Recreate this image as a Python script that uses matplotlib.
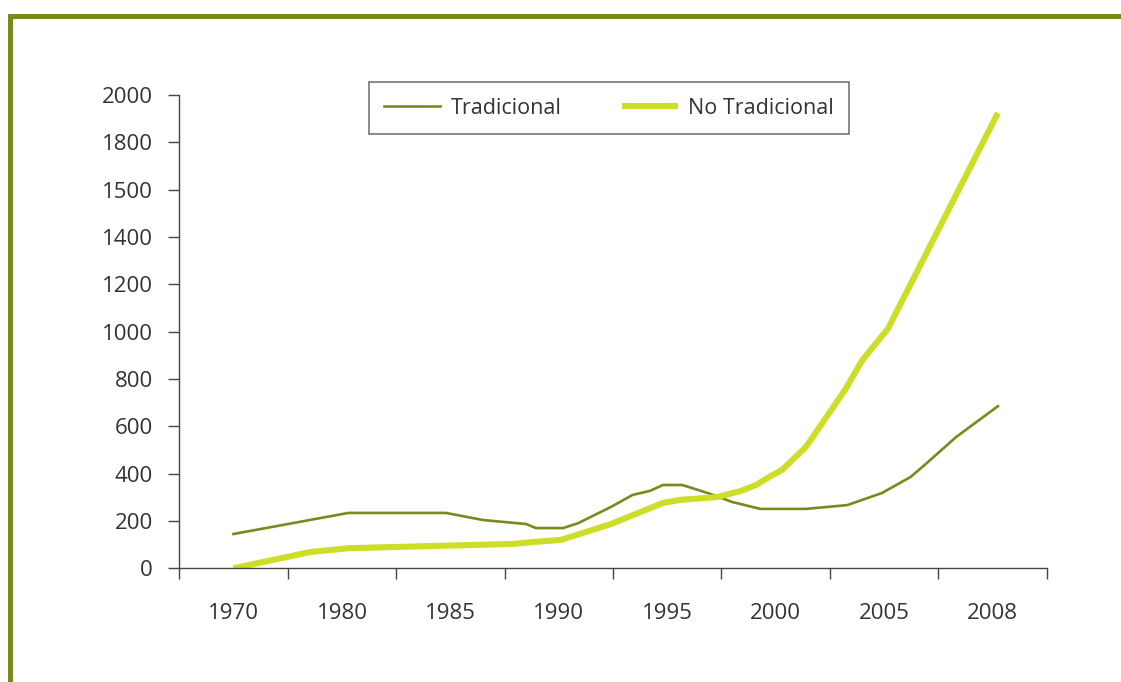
import numpy as np
import matplotlib
matplotlib.use("Agg")
import matplotlib.pyplot as plt
from matplotlib.patches import Rectangle

# ---- data -------------------------------------------------------------
label_years = [1970, 1980, 1985, 1990, 1995, 2000, 2005, 2008]
y_tick_values = [0, 200, 400, 600, 800, 1000, 1200, 1400, 1600, 1800, 2000]
y_tick_labels = ["0", "200", "400", "600", "800", "1000", "1200", "1400",
                 "1500", "1800", "2000"]

trad_years = [1970, 1980.3, 1984.8, 1986.5, 1988.5, 1988.95, 1990.2, 1990.9,
              1992.4, 1993.4, 1994.2, 1994.8, 1995.7, 1997.0, 1998.0, 1999.3,
              2001.4, 2003.3, 2004.9, 2005.7, 2006.1, 2006.9, 2008]
trad_values = [145, 234, 234, 204, 187, 170, 170, 191, 259, 310, 327, 352,
               352, 314, 280, 251, 251, 267, 318, 386, 441, 555, 685]

notrad_years = [1970, 1977.1, 1980.3, 1987.9, 1988.8, 1990.1, 1992.4, 1994.8,
                1995.6, 1997.3, 1998.4, 1999.1, 1999.7, 2000.3, 2001.4,
                2003.2, 2004.0, 2005.1, 2008]
notrad_values = [0, 69, 85, 103, 111, 120, 187, 276, 289, 301, 327, 352, 386,
                 416, 513, 754, 880, 1012, 1924]

# ---- styling ----------------------------------------------------------
OLIVE = "#788a1c"
LIME = "#cddd28"
TEXT = "#333333"
AXIS = "#444444"

plt.rcParams["font.family"] = ["Open Sans", "DejaVu Sans"]
plt.rcParams["font.size"] = 16

# Piecewise year axis: each labelled year sits in the middle of its group
group_centres = [0.5, 1.5, 2.5, 3.5, 4.5, 5.5, 6.5, 7.55]
yr = np.array(label_years, float)
gp = np.array(group_centres, float)
s0 = (gp[1] - gp[0]) / (yr[1] - yr[0])
s1 = (gp[-1] - gp[-2]) / (yr[-1] - yr[-2])
yr_ext = np.concatenate([[yr[0] - 100], yr, [yr[-1] + 100]])
gp_ext = np.concatenate([[gp[0] - 100 * s0], gp, [gp[-1] + 100 * s1]])


def fwd(x):
    return np.interp(x, yr_ext, gp_ext)


def inv(p):
    return np.interp(p, gp_ext, yr_ext)


W, H = 1121, 682
fig = plt.figure(figsize=(W / 100, H / 100), dpi=100)
fig.patch.set_facecolor("white")

# Olive frame along the left and top edges
fig.add_artist(Rectangle((9.5 / W, -0.2), 2.0, (H - 15.5) / H + 0.2,
                         transform=fig.transFigure, fill=False,
                         edgecolor=OLIVE, linewidth=3.6, clip_on=False))

ax = fig.add_axes([179.3 / W, (H - 568.3) / H, (1046.7 - 179.3) / W,
                   (568.3 - 95) / H])
ax.set_xscale("function", functions=(fwd, inv))

l1, = ax.plot(trad_years, trad_values, color=OLIVE, lw=1.9,
              solid_joinstyle="miter", label="Tradicional")
l2, = ax.plot(notrad_years, notrad_values, color=LIME, lw=4.4,
              solid_joinstyle="miter", solid_capstyle="butt",
              label="No Tradicional")

ax.set_xlim(inv(0), inv(8))
ax.set_ylim(0, 2000)

ax.set_xticks(inv(np.arange(9)))
ax.set_xticklabels([])
ax.set_xticks(inv(np.arange(8) + 0.5), minor=True)
ax.set_xticklabels([str(y) for y in label_years], minor=True)
ax.tick_params(axis="x", which="major", direction="out", length=8,
               width=1, color=AXIS)
ax.tick_params(axis="x", which="minor", length=0, pad=25, labelcolor=TEXT,
               labelsize=16)

ax.set_yticks(y_tick_values)
ax.set_yticklabels(y_tick_labels)
ax.tick_params(axis="y", direction="out", length=8, width=1, color=AXIS,
               pad=11, labelcolor=TEXT, labelsize=16)

for side in ("top", "right"):
    ax.spines[side].set_visible(False)
for side in ("left", "bottom"):
    ax.spines[side].set_color(AXIS)
    ax.spines[side].set_linewidth(1)

leg = fig.legend(handles=[l1, l2], ncol=2, loc="center",
                 bbox_to_anchor=((367 + 851) / 2 / W, 1 - 108 / H),
                 frameon=True, fancybox=False, edgecolor=AXIS,
                 handlelength=2.6, handletextpad=0.5, columnspacing=2.8,
                 borderpad=0.7, fontsize=15.5, labelcolor=TEXT)
leg.get_frame().set_linewidth(1.1)

fig.savefig("out.png", dpi=100, facecolor="white")
